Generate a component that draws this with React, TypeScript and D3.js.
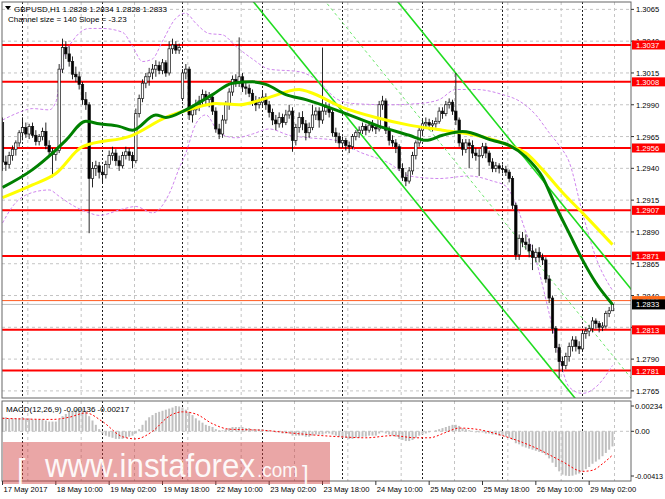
import React from 'react'
import * as d3 from 'd3'

// GBPUSD H1 bars, prices in pips (2833 = 1.2833): [open, high, low, close]
const candles: [number, number, number, number][] = [
  [2976, 2980, 2938, 2945], [2945, 2950, 2938, 2943], [2943, 2953, 2940, 2950], [2950, 2958, 2946, 2955],
  [2955, 2962, 2950, 2960], [2960, 2970, 2957, 2968], [2968, 2980, 2962, 2972], [2972, 2976, 2964, 2967],
  [2967, 2975, 2963, 2973], [2973, 2976, 2964, 2966], [2966, 2970, 2958, 2961], [2961, 2967, 2958, 2965],
  [2965, 2972, 2962, 2969], [2969, 2976, 2955, 2958], [2958, 2962, 2950, 2953], [2953, 2956, 2933, 2951],
  [2951, 2956, 2946, 2954], [2954, 3022, 2952, 3018], [3018, 3042, 3015, 3035], [3035, 3040, 3026, 3030],
  [3030, 3036, 3020, 3024], [3024, 3028, 3010, 3014], [3014, 3020, 3008, 3012], [3012, 3016, 3002, 3006],
  [3006, 3008, 2990, 2994], [2994, 3000, 2986, 2990], [2990, 2992, 2889, 2932], [2932, 2945, 2925, 2940],
  [2940, 2946, 2934, 2942], [2942, 2945, 2932, 2937], [2937, 2942, 2928, 2935], [2935, 2946, 2932, 2943],
  [2943, 2954, 2940, 2950], [2950, 2957, 2946, 2952], [2952, 2955, 2942, 2946], [2946, 2950, 2938, 2942],
  [2942, 2953, 2940, 2950], [2950, 2957, 2947, 2953], [2953, 2956, 2946, 2950], [2950, 2953, 2940, 2946],
  [2946, 2987, 2944, 2983], [2983, 2998, 2980, 2995], [2995, 3010, 2992, 3007], [3007, 3015, 3003, 3012],
  [3012, 3019, 3005, 3015], [3015, 3022, 3010, 3018], [3018, 3025, 3012, 3021], [3021, 3024, 3014, 3017],
  [3017, 3026, 3014, 3023], [3023, 3025, 3012, 3015], [3015, 3040, 3013, 3034], [3034, 3042, 3030, 3037],
  [3037, 3040, 3030, 3033], [3033, 3038, 3030, 3035], [2995, 3018, 2993, 3015], [3015, 3022, 3010, 3018],
  [3018, 3020, 2978, 2982], [2982, 2990, 2976, 2986], [2986, 2994, 2982, 2990], [2990, 2997, 2985, 2993],
  [2993, 3002, 2990, 2998], [2998, 3001, 2990, 2994], [2994, 3000, 2988, 2996], [2996, 2998, 2982, 2985],
  [2985, 2988, 2968, 2971], [2971, 2975, 2963, 2967], [2967, 2982, 2964, 2978], [2978, 2993, 2975, 2990],
  [2990, 3003, 2986, 3000], [3000, 3013, 2997, 3010], [3010, 3014, 3004, 3007], [3007, 3043, 3004, 3012],
  [3012, 3015, 3000, 3004], [3004, 3008, 2998, 3003], [3003, 3006, 2996, 2999], [2999, 3002, 2989, 2993],
  [2993, 2997, 2985, 2990], [2990, 2996, 2987, 2992], [2992, 3000, 2989, 2996], [2996, 2999, 2986, 2990],
  [2990, 2993, 2980, 2984], [2984, 2987, 2974, 2978], [2978, 2982, 2970, 2975], [2975, 2984, 2972, 2980],
  [2980, 2983, 2972, 2976], [2976, 2986, 2974, 2982], [2982, 2990, 2979, 2985], [2985, 2988, 2953, 2962],
  [2962, 2975, 2958, 2972], [2972, 2984, 2968, 2980], [2980, 2985, 2970, 2975], [2975, 2978, 2962, 2968],
  [2968, 2976, 2964, 2972], [2972, 2990, 2970, 2982], [2982, 2988, 2978, 2985], [2985, 2988, 2972, 2978],
  [2978, 3035, 2975, 2985], [2985, 2992, 2982, 2988], [2988, 2991, 2980, 2984], [2984, 2986, 2965, 2968],
  [2968, 2972, 2960, 2965], [2965, 2968, 2956, 2960], [2960, 2965, 2956, 2962], [2962, 2964, 2954, 2958],
  [2958, 2961, 2952, 2957], [2957, 2967, 2955, 2965], [2965, 2970, 2962, 2968], [2968, 2973, 2964, 2970],
  [2970, 2976, 2967, 2973], [2973, 2975, 2966, 2970], [2970, 2977, 2968, 2974], [2974, 2978, 2969, 2972],
  [2972, 2975, 2967, 2971], [2971, 2993, 2969, 2990], [2990, 2997, 2986, 2993], [2993, 2995, 2967, 2970],
  [2970, 2973, 2958, 2962], [2962, 2966, 2957, 2960], [2960, 2963, 2952, 2957], [2957, 2959, 2938, 2940],
  [2940, 2944, 2930, 2933], [2933, 2937, 2926, 2930], [2930, 2941, 2928, 2938], [2938, 2953, 2935, 2950],
  [2950, 2962, 2947, 2960], [2960, 2973, 2957, 2970], [2970, 2978, 2966, 2975], [2975, 2980, 2971, 2976],
  [2976, 2979, 2970, 2974], [2974, 2978, 2969, 2975], [2975, 2980, 2972, 2977], [2977, 2988, 2975, 2985],
  [2985, 2988, 2979, 2983], [2983, 2993, 2981, 2990], [2990, 2995, 2987, 2992], [2992, 2994, 2982, 2985],
  [2985, 3015, 2974, 2978], [2978, 2980, 2957, 2960], [2960, 2963, 2950, 2955], [2955, 2963, 2952, 2960],
  [2960, 2963, 2940, 2958], [2958, 2962, 2948, 2952], [2952, 2956, 2946, 2950], [2950, 2955, 2934, 2950],
  [2950, 2960, 2948, 2957], [2957, 2960, 2948, 2952], [2952, 2954, 2942, 2945], [2945, 2948, 2937, 2940],
  [2940, 2945, 2937, 2942], [2942, 2944, 2936, 2940], [2940, 2943, 2936, 2939], [2939, 2942, 2934, 2937],
  [2937, 2939, 2929, 2932], [2932, 2934, 2908, 2911], [2911, 2913, 2868, 2872], [2872, 2888, 2868, 2885],
  [2885, 2890, 2878, 2882], [2882, 2888, 2876, 2880], [2880, 2885, 2870, 2875], [2875, 2880, 2860, 2870],
  [2870, 2877, 2866, 2874], [2874, 2878, 2866, 2870], [2870, 2873, 2864, 2868], [2868, 2870, 2850, 2853],
  [2853, 2856, 2834, 2838], [2838, 2840, 2810, 2814], [2814, 2816, 2795, 2799], [2799, 2802, 2775, 2788],
  [2788, 2792, 2780, 2785], [2785, 2795, 2782, 2792], [2792, 2803, 2788, 2800], [2800, 2808, 2796, 2805],
  [2805, 2808, 2796, 2800], [2800, 2804, 2794, 2798], [2798, 2813, 2796, 2810], [2810, 2815, 2806, 2812],
  [2812, 2817, 2808, 2814], [2814, 2823, 2811, 2820], [2820, 2822, 2814, 2818], [2818, 2820, 2811, 2815],
  [2815, 2819, 2812, 2816], [2816, 2828, 2814, 2826], [2826, 2831, 2823, 2828], [2828, 2834, 2828, 2833],
]

// moving averages: [bar, pips]
const slowMa: [number, number][] = [
  [0, 2917], [9, 2927], [16, 2936], [24, 2957], [39, 2966], [49, 2980], [57, 2987], [64, 2991],
  [71, 2990], [79, 2995], [89, 3002], [92, 3000], [102, 2988], [112, 2980], [122, 2974], [132, 2970],
  [142, 2966], [152, 2958], [157, 2952], [162, 2939], [168, 2921], [174, 2905], [183, 2880],
]
const fastMa: [number, number][] = [
  [0, 2925], [9, 2939], [15, 2952], [19, 2962], [25, 2977], [29, 2975], [35, 2973], [39, 2970],
  [46, 2982], [49, 2980], [55, 2986], [63, 2998], [69, 3007], [75, 3008], [79, 3006], [85, 2998],
  [91, 2994], [102, 2984], [112, 2974], [122, 2966], [127, 2962], [132, 2966], [138, 2969], [147, 2962],
  [152, 2958], [157, 2949], [162, 2933], [166, 2910], [170, 2889], [174, 2868], [178, 2850], [183, 2833],
]

// bollinger bands: [bar, pips]
const bandUpper: [number, number][] = [
  [0, 2978], [5, 2984], [9, 2987], [14, 2986], [16, 2992], [18, 3025], [21, 3040], [26, 3050],
  [30, 3050], [36, 3047], [39, 3036], [42, 3024], [45, 3026], [48, 3040], [52, 3058], [55, 3062],
  [58, 3054], [62, 3046], [66, 3045], [70, 3036], [75, 3026], [80, 3018], [89, 3016], [95, 3008],
  [100, 2995], [105, 2991], [116, 2990], [125, 2991], [131, 2994], [136, 3002], [142, 3002], [150, 2998],
  [155, 2993], [160, 2982], [164, 2968], [167, 2958], [170, 2945], [174, 2905], [178, 2870], [183, 2844],
]
const bandLower: [number, number][] = [
  [0, 2897], [3, 2910], [9, 2921], [14, 2923], [17, 2918], [21, 2911], [26, 2905], [29, 2903],
  [36, 2908], [40, 2910], [45, 2905], [50, 2920], [53, 2940], [55, 2952], [58, 2975], [61, 2982],
  [65, 2968], [70, 2964], [75, 2967], [80, 2971], [86, 2966], [92, 2964], [100, 2962], [107, 2953],
  [116, 2944], [122, 2934], [131, 2932], [140, 2934], [147, 2930], [151, 2926], [154, 2912], [157, 2890],
  [160, 2868], [164, 2826], [167, 2792], [170, 2768], [174, 2763], [178, 2768], [183, 2785],
]

// MACD(12,26,9) main, one value per bar, in 0.0001
const macdMain = [
  13, 13, 12, 12, 12, 12, 13, 12, 12, 11, 11, 11, 11, 10, 9, 9, 9,
  11, 14, 16, 18, 19, 20, 21, 21, 19,
  14, 10, 6, 2, -2, -4, -5, -6, -7, -7, -7, -6, -5, -4, -2,
  2, 6, 10, 13, 15, 17, 18, 19, 20, 21, 22, 23.4, 23, 22, 20, 18,
  15, 12, 10, 8, 6, 5, 4,
  2, 1, 1, 2, 3, 4, 4, 4, 4, 3, 3, 2, 2, 2, 2, 1, 1, 0,
  -1, -1, -2, -2, -2, -4, -4,
  -4, -4, -5, -5, -4, -3, -3, -3, -2, -2, -3, -4, -5, -6, -6, -7, -7, -6, -6, -5,
  -5, -4, -4, -4, -2, -1, -2, -3, -4, -5, -7,
  -8, -9, -9, -8, -6, -4, -3, -2,
  -1, 0, 1, 2, 3,
  4, 5, 6, 6, 5, 3,
  2, 1, 0, -1, -1, -1, -2, -2, -3, -3, -4, -4,
  -5, -6, -8, -11, -12, -14, -15, -16, -17,
  -18, -19, -20, -22, -25, -29, -33, -37, -40,
  -41, -41.3, -41, -40, -39, -37, -35,
  -33, -30, -28, -26, -23, -20, -17, -14,
]
const macdSignal: [number, number][] = [
  [0, 12], [15, 11], [20, 13], [25, 17], [30, 9], [36, -5], [40, -7], [45, 0], [50, 14], [54, 18],
  [58, 16], [63, 7], [68, 2], [78, 1], [88, -2], [101, -5], [109, -6], [117, -4], [124, -6], [128, -6],
  [133, -1], [137, 3], [142, 2], [150, -4], [159, -14], [168, -28], [174, -37], [177, -36], [180, -30],
  [183, -22],
]

const levels = [3037, 3008, 2956, 2907, 2871, 2813, 2781]
const priceTicks = [3065, 3040, 3015, 2990, 2965, 2940, 2915, 2890, 2865, 2840, 2815, 2790, 2765]
// 1.2815 sits fully under the 1.2813 label in the chart, so it gets a grid line only
const hiddenTicks = [2815]
const macdTicks = [23.4, 0, -41.3]
const timeLabels = [
  '17 May 2017', '18 May 10:00', '19 May 02:00', '19 May 18:00', '22 May 10:00', '23 May 02:00',
  '23 May 18:00', '24 May 10:00', '25 May 02:00', '25 May 18:00', '26 May 10:00', '29 May 02:00',
]
const timeTickBars = [0, 16, 32, 48, 64, 80, 96, 112, 128, 144, 160, 176]
const daySeparatorBars = [6, 30, 54, 78, 102, 126, 150, 174]
const gridBars = [7.6, 23.6, 39.6, 55.6, 71.6, 87.6, 103.6, 119.6, 135.6, 151.6, 167.6, 183.6]

// regression channel from the header line
const channelSize = 140
const channelSlope = -3.23
const channelBaseBar = 183
const channelBase = 2723

const FONT = "'Liberation Sans', Arial, sans-serif"
const AX = 7.6
const L = 2, R = 631, TOP = 2, BOT = 398
const MT = 401, MB = 481

const fmt = (p: number) => (1 + p / 10000).toFixed(4)

export default function App() {
  const x = d3.scaleLinear().domain([0, 183]).range([2.5, 612.5])
  const y = d3.scaleLinear().domain([2760.2, 3070.8]).range([397, 2])
  const ym = d3.scaleLinear().domain([-41.3, 23.4]).range([476, 406])

  const line = d3.line<[number, number]>()
    .x(d => x(d[0]))
    .y(d => y(d[1]))
    .curve(d3.curveMonotoneX)
  const signalLine = d3.line<[number, number]>()
    .x(d => x(d[0]))
    .y(d => ym(d[1]))
    .curve(d3.curveMonotoneX)

  const chan = (offset: number) => {
    const b0 = 60, b1 = 195
    const p = (b: number) => channelBase + offset + channelSlope * (b - channelBaseBar)
    return { x1: x(b0), y1: y(p(b0)), x2: x(b1), y2: y(p(b1)) }
  }
  const lo = chan(0), mid = chan(channelSize / 2), hi = chan(channelSize)

  return (
    <svg width={665} height={499} style={{ position: 'absolute', left: 0, top: 0, background: '#fff' }}
      fontFamily={FONT}>
      <defs>
        <clipPath id="main"><rect x={L} y={TOP} width={R - L} height={BOT - TOP} /></clipPath>
        <clipPath id="macd"><rect x={L} y={MT} width={R - L} height={MB - MT} /></clipPath>
      </defs>
      <rect width={665} height={499} fill="#fff" />

      {/* grid */}
      {priceTicks.map(t => (
        <line key={'hg' + t} x1={L} x2={R} y1={y(t)} y2={y(t)} stroke="#c4c4c4" strokeDasharray="3,3" />
      ))}
      <line x1={L} x2={R} y1={ym(0)} y2={ym(0)} stroke="#c4c4c4" strokeDasharray="3,3" />
      {gridBars.map(b => (
        <g key={'vg' + b}>
          <line x1={x(b)} x2={x(b)} y1={TOP} y2={BOT} stroke="#c4c4c4" strokeDasharray="3,3" />
          <line x1={x(b)} x2={x(b)} y1={MT} y2={MB} stroke="#c4c4c4" strokeDasharray="3,3" />
        </g>
      ))}
      {daySeparatorBars.map(b => (
        <g key={'ds' + b}>
          <line x1={x(b)} x2={x(b)} y1={TOP} y2={BOT} stroke="#222" strokeDasharray="2,2" />
          <line x1={x(b)} x2={x(b)} y1={MT} y2={MB} stroke="#222" strokeDasharray="2,2" />
        </g>
      ))}

      <g clipPath="url(#main)">
        {/* support / resistance */}
        {levels.map(l => (
          <line key={'lv' + l} x1={L} x2={R} y1={y(l)} y2={y(l)} stroke="#ff0000" strokeWidth={2} />
        ))}
        <line x1={L} x2={R} y1={y(2836)} y2={y(2836)} stroke="#ff5a1f" strokeWidth={1} />
        <line x1={L} x2={R} y1={y(2833)} y2={y(2833)} stroke="#bdbdbd" strokeWidth={1} />

        {/* bollinger */}
        <path d={line(bandUpper) ?? ''} fill="none" stroke="#cf86ee" strokeDasharray="3,2" />
        <path d={line(bandLower) ?? ''} fill="none" stroke="#cf86ee" strokeDasharray="3,2" />

        {/* channel */}
        <line {...lo} stroke="#1fdc1f" strokeWidth={1.6} />
        <line {...hi} stroke="#1fdc1f" strokeWidth={1.6} />
        <line {...mid} stroke="#6ee86e" strokeWidth={1} strokeDasharray="3,3" />

        {/* candles */}
        {candles.map(([o, h, l, c], i) => {
          const cx = x(i)
          const top = y(Math.max(o, c))
          const hgt = Math.max(1, Math.abs(y(o) - y(c)))
          return (
            <g key={'c' + i}>
              <line x1={cx} x2={cx} y1={y(h)} y2={y(l)} stroke="#111" strokeWidth={0.9} />
              <rect x={cx - 1.2} y={top} width={2.4} height={hgt}
                fill={c >= o ? '#fff' : '#000'} stroke="#111" strokeWidth={0.7} />
            </g>
          )
        })}

        {/* moving averages */}
        <path d={line(slowMa) ?? ''} fill="none" stroke="#ffff00" strokeWidth={3} />
        <path d={line(fastMa) ?? ''} fill="none" stroke="#008000" strokeWidth={3} />
      </g>

      {/* MACD pane */}
      <g clipPath="url(#macd)">
        {macdMain.map((v, i) => (
          <rect key={'m' + i} x={x(i) - 1} width={2}
            y={Math.min(ym(0), ym(v))} height={Math.abs(ym(v) - ym(0))} fill="#c0c0c0" />
        ))}
        <path d={signalLine(macdSignal) ?? ''} fill="none" stroke="#ff0000" strokeDasharray="2,2" />
      </g>

      {/* frames */}
      <rect x={L} y={TOP} width={R - L} height={BOT - TOP} fill="none" stroke="#666" />
      <rect x={L} y={MT} width={R - L} height={MB - MT} fill="none" stroke="#666" />

      {/* price axis */}
      {priceTicks.map(t => (
        <g key={'pt' + t}>
          <line x1={R} x2={R + 3} y1={y(t)} y2={y(t)} stroke="#333" />
          {!hiddenTicks.includes(t) && (
            <text x={636} y={y(t) + 3} fontSize={AX} fill="#000">{fmt(t)}</text>
          )}
        </g>
      ))}
      {levels.map(l => (
        <g key={'pl' + l}>
          <rect x={632} y={y(l) - 4.5} width={33} height={9} fill="#ff0000" />
          <text x={636} y={y(l) + 3} fontSize={AX} fill="#fff">{fmt(l)}</text>
        </g>
      ))}
      <rect x={632} y={y(2836) - 4.5} width={33} height={9} fill="#ff6a1a" />
      <text x={636} y={y(2836) + 3} fontSize={AX} fill="#fff">{fmt(2836)}</text>
      <rect x={632} y={y(2833) - 5} width={33} height={10} fill="#000" />
      <text x={636} y={y(2833) + 3} fontSize={AX} fill="#fff">{fmt(2833)}</text>

      {/* macd axis */}
      {macdTicks.map(v => (
        <g key={'ma' + v}>
          <line x1={R} x2={R + 3} y1={ym(v)} y2={ym(v)} stroke="#333" />
          <text x={635} y={ym(v) + 3} fontSize={AX} fill="#000"
            textLength={v < 0 ? 28 : undefined} lengthAdjust="spacingAndGlyphs">
            {v === 0 ? '0.00' : (v / 10000).toFixed(5)}
          </text>
        </g>
      ))}

      {/* time axis */}
      {timeLabels.map((t, i) => (
        <g key={'tl' + i}>
          <line x1={x(timeTickBars[i])} x2={x(timeTickBars[i])} y1={MB} y2={MB + 4} stroke="#333" />
          <text x={x(timeTickBars[i]) + 1} y={492} fontSize={AX} fill="#000">{t}</text>
        </g>
      ))}

      {/* headers */}
      <path d="M5,6 L11,6 L8,10 Z" fill="#000" />
      <text x={14} y={11.5} fontSize={8} fill="#000">GBPUSD,H1  1.2828 1.2834 1.2828 1.2833</text>
      <text x={8} y={22} fontSize={8} fill="#000">Channel size = 140 Slope = -3.23</text>
      <text x={6} y={411.5} fontSize={8} fill="#000">MACD(12,26,9) -0.00136 -0.00217</text>

      {/* watermark */}
      <rect x={3} y={442} width={327} height={42} fill="rgb(210,60,60)" opacity={0.46} />
      <g fill="#fff" opacity={0.92}>
        <text x={17} y={480} fontSize={30} fontWeight={300}>[</text>
        <text x={45} y={477} fontSize={33} textLength={210} lengthAdjust="spacingAndGlyphs">www.instaforex</text>
        <text x={257} y={477} fontSize={20} textLength={41} lengthAdjust="spacingAndGlyphs">.com</text>
        <text x={302} y={482} fontSize={24}>]</text>
      </g>
    </svg>
  )
}
